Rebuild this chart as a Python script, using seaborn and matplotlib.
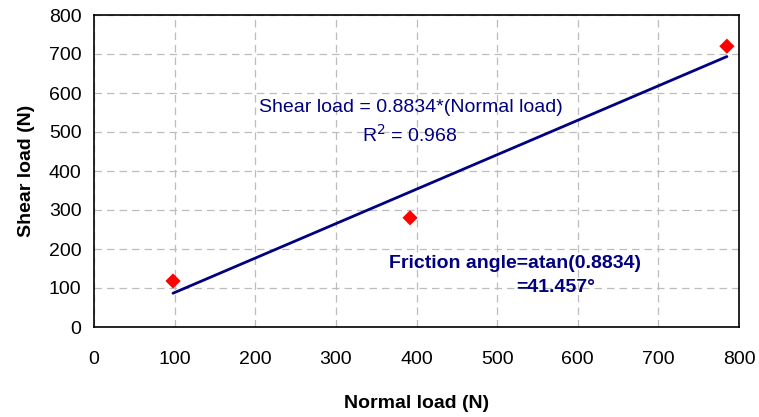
import numpy as np
import pandas as pd
import seaborn as sns
import matplotlib
matplotlib.use("Agg")
import matplotlib.pyplot as plt

normal_load = [98, 392, 785]
shear_load = [118, 280, 720]
slope = 0.8834
r2 = 0.968
friction_angle = 41.457
x_ticks = [0, 100, 200, 300, 400, 500, 600, 700, 800]
y_ticks = [0, 100, 200, 300, 400, 500, 600, 700, 800]

sns.set_style("white")
plt.rcParams['font.family'] = ['Liberation Sans', 'DejaVu Sans']
plt.rcParams['text.color'] = 'black'
plt.rcParams['axes.labelcolor'] = 'black'
plt.rcParams['xtick.color'] = 'black'
plt.rcParams['ytick.color'] = 'black'

df = pd.DataFrame({"Normal load (N)": normal_load, "Shear load (N)": shear_load})
fit_x = [min(normal_load), max(normal_load)]
fit_df = pd.DataFrame({"x": fit_x, "y": [slope * v for v in fit_x]})

fig = plt.figure(figsize=(7.59, 4.17), dpi=100)
ax = fig.add_axes([94/759, 1 - 327/417, (739-94)/759, (327-15)/417])

sns.lineplot(data=fit_df, x="x", y="y", ax=ax, color="#000080", lw=2)
sns.scatterplot(data=df, x="Normal load (N)", y="Shear load (N)", ax=ax, marker="D",
                color="#ff0000", s=60, edgecolor="none", zorder=5)

ax.set_xlim(0, 800)
ax.set_ylim(0, 800)
ax.set_xticks(x_ticks)
ax.set_yticks(y_ticks)
ax.tick_params(axis="both", direction="out", length=5, width=1, labelsize=14,
               color="black", labelcolor="black")
ax.tick_params(axis="x", pad=12)
ax.tick_params(axis="y", pad=4)
ax.grid(True, linestyle=(0, (6, 4)), color="#bdbdbd", lw=0.9)
for s in ax.spines.values():
    s.set_color("black")
    s.set_linewidth(1.2)
ax.set_xlabel("Normal load (N)", fontsize=14, fontweight="bold", labelpad=20)
ax.set_ylabel("Shear load (N)", fontsize=14, fontweight="bold", labelpad=10)

ax.text(393, 564, f"Shear load = {slope}*(Normal load)", color="#000080", fontsize=14,
        ha="center", va="center")
ax.text(392, 492, f"R$^2$ = {r2}", color="#000080", fontsize=14, ha="center", va="center")
ax.text(522, 164, f"Friction angle=atan({slope})", color="#000080", fontsize=14,
        fontweight="bold", ha="center", va="center")
ax.text(573, 100, f"={friction_angle}°", color="#000080", fontsize=14, fontweight="bold",
        ha="center", va="center")

fig.savefig("out.png", dpi=100)
